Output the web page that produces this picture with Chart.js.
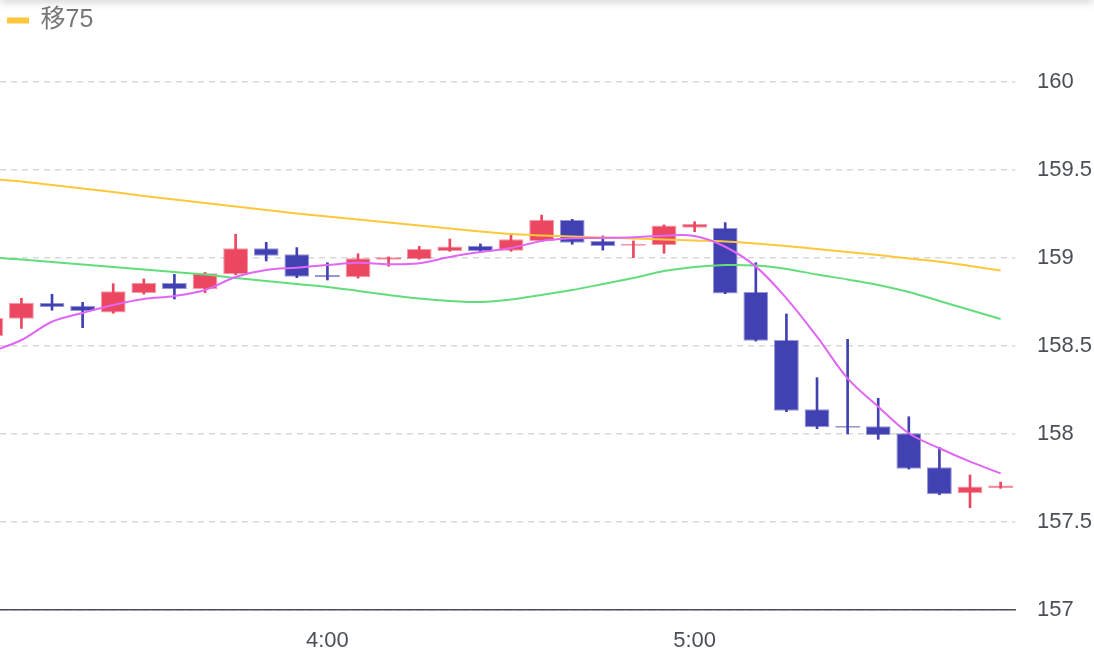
<!DOCTYPE html>
<html>
<head>
<meta charset="utf-8">
<script src="https://cdn.jsdelivr.net/npm/chart.js@4.4.1/dist/chart.umd.min.js"></script>
<style>
  html, body { margin: 0; padding: 0; background: #fff; overflow: hidden; }
  #wrap { position: relative; width: 1094px; height: 660px; }
  #shade { position: absolute; left: 0; right: 0; top: -12px; height: 12px; box-shadow: 0 2px 10px rgba(0, 0, 0, 0.18); z-index: 2; }
</style>
</head>
<body>
<div id="wrap">
  <div id="shade"></div>
  <canvas id="candle-chart"></canvas>
</div>
<script>
const times = ["3:05", "3:10", "3:15", "3:20", "3:25", "3:30", "3:35", "3:40", "3:45", "3:50", "3:55",
  "4:00", "4:05", "4:10", "4:15", "4:20", "4:25", "4:30", "4:35", "4:40", "4:45", "4:50", "4:55",
  "5:00", "5:05", "5:10", "5:15", "5:20", "5:25", "5:30", "5:35", "5:40", "5:45", "5:50"];

const openP = [158.557, 158.655, 158.744, 158.729, 158.691, 158.801, 158.858, 158.824, 158.907, 159.055, 159.021,
  158.903, 158.890, 158.990, 158.994, 159.040, 159.070, 159.041, 159.097, 159.216, 159.097, 159.070, 159.074,
  159.172, 159.170, 158.807, 158.534, 158.140, 158.045, 158.044, 158.004, 157.811, 157.663, 157.693];
const highP = [158.680, 158.771, 158.794, 158.748, 158.854, 158.881, 158.907, 158.918, 159.135, 159.089, 159.059,
  158.973, 159.024, 159.006, 159.066, 159.108, 159.080, 159.135, 159.244, 159.220, 159.125, 159.097, 159.188,
  159.206, 159.201, 158.973, 158.682, 158.320, 158.538, 158.203, 158.098, 157.924, 157.767, 157.727];
const lowP = [158.530, 158.600, 158.703, 158.604, 158.686, 158.795, 158.767, 158.803, 158.905, 158.983, 158.888,
  158.875, 158.886, 158.953, 158.992, 159.038, 159.036, 159.038, 159.095, 159.078, 159.045, 159.002, 159.027,
  159.149, 158.797, 158.528, 158.127, 158.030, 158.000, 157.970, 157.801, 157.655, 157.581, 157.691];
const closeP = [158.659, 158.746, 158.722, 158.699, 158.811, 158.860, 158.824, 158.913, 159.055, 159.013, 158.894,
  158.890, 158.998, 159.004, 159.051, 159.066, 159.040, 159.106, 159.218, 159.087, 159.068, 159.081, 159.184,
  159.193, 158.799, 158.530, 158.132, 158.038, 158.036, 157.994, 157.803, 157.657, 157.701, 157.708];

const ma5 = [158.466, 158.534, 158.638, 158.688, 158.733, 158.767, 158.784, 158.818, 158.892, 158.932, 158.945,
  158.960, 158.973, 158.964, 158.970, 159.006, 159.034, 159.057, 159.097, 159.112, 159.114, 159.118, 159.127,
  159.125, 159.064, 158.951, 158.771, 158.553, 158.316, 158.155, 158.004, 157.919, 157.843, 157.777];
const ma25 = [159.003, 158.991, 158.977, 158.963, 158.949, 158.935, 158.920, 158.906, 158.886, 158.869, 158.852,
  158.835, 158.813, 158.790, 158.770, 158.756, 158.750, 158.764, 158.790, 158.818, 158.852, 158.886, 158.926,
  158.949, 158.960, 158.957, 158.938, 158.906, 158.878, 158.847, 158.807, 158.756, 158.705, 158.653];
const ma75 = [159.449, 159.435, 159.415, 159.395, 159.375, 159.352, 159.332, 159.313, 159.293, 159.273, 159.253,
  159.236, 159.219, 159.202, 159.185, 159.168, 159.151, 159.136, 159.128, 159.122, 159.116, 159.111, 159.105,
  159.099, 159.094, 159.082, 159.068, 159.051, 159.034, 159.017, 158.997, 158.979, 158.955, 158.929];

const yTicks = [157, 157.5, 158, 158.5, 159, 159.5, 160];
const legendShown = ["移75"];

const upColor = "#eb4760";
const downColor = "#4141b3";
const candleColors = closeP.map((c, i) => c >= openP[i] ? upColor : downColor);
const candleEdges = closeP.map((c, i) => c >= openP[i] ? "rgba(235, 71, 96, 0.55)" : "rgba(65, 65, 179, 0.55)");

const toPoints = arr => arr.map((v, i) => ({ x: i, y: v }));

const lineSet = (label, values, color) => ({
  type: "line",
  label: label,
  data: toPoints(values),
  borderColor: color,
  backgroundColor: color,
  borderWidth: 2,
  pointRadius: 0,
  tension: 0.35
});

const tickFont = { family: "'Liberation Sans', Arial, sans-serif", size: 22 };

// legend takes the space above the plot
const legendGap = {
  id: "legendGap",
  beforeInit(chart) {
    const fit = chart.legend.fit;
    chart.legend.fit = function () {
      fit.call(this);
      this.height = 82;
    };
  }
};

const candleChart = new Chart(document.getElementById("candle-chart"), {
  type: "bar",
  data: {
    datasets: [
      lineSet("移5", ma5, "#e066f5"),
      lineSet("移25", ma25, "#63dc7c"),
      lineSet("移75", ma75, "#ffc83c"),
      {
        label: "body",
        data: openP.map((o, i) => ({ x: i, y: [o, closeP[i]] })),
        backgroundColor: candleColors,
        borderColor: candleEdges,
        borderWidth: 1,
        borderSkipped: false,
        grouped: false,
        categoryPercentage: 0.9,
        barPercentage: 0.9
      },
      {
        label: "wick",
        data: lowP.map((l, i) => ({ x: i, y: [l, highP[i]] })),
        backgroundColor: candleColors,
        borderWidth: 0,
        grouped: false,
        barThickness: 2
      }
    ]
  },
  options: {
    responsive: true,
    maintainAspectRatio: false,
    animation: false,
    layout: { padding: 0 },
    plugins: {
      tooltip: { enabled: false },
      legend: {
        position: "top",
        align: "start",
        labels: {
          filter: item => legendShown.includes(item.text),
          boxWidth: 20,
          boxHeight: 4,
          padding: 8,
          color: "#777",
          font: { family: "'Liberation Sans', 'Noto Sans CJK JP', sans-serif", size: 25 }
        }
      }
    },
    scales: {
      x: {
        type: "linear",
        offset: false,
        min: 0.3,
        max: 33.47,
        grid: { display: false, offset: false },
        border: { display: true, color: "#4a4f57", width: 1.5 },
        afterBuildTicks: scale => {
          scale.ticks = times.map((t, i) => ({ value: i, label: t }))
            .filter(t => t.label.endsWith(":00"));
        },
        afterFit: scale => { scale.height = 50; },
        ticks: {
          color: "#4b5058",
          font: tickFont,
          padding: 10,
          maxRotation: 0,
          callback: value => times[value]
        }
      },
      y: {
        position: "right",
        min: yTicks[0],
        max: yTicks[yTicks.length - 1],
        afterBuildTicks: scale => { scale.ticks = yTicks.map(v => ({ value: v })); },
        afterFit: scale => { scale.width = 79; },
        grid: { color: "#d9d9d9", lineWidth: 1.5, drawTicks: false },
        border: { display: false, dash: [6, 5] },
        ticks: {
          color: "#4b5058",
          font: tickFont,
          padding: 22,
          callback: value => String(value)
        }
      }
    }
  },
  plugins: [legendGap]
});
</script>
</body>
</html>
